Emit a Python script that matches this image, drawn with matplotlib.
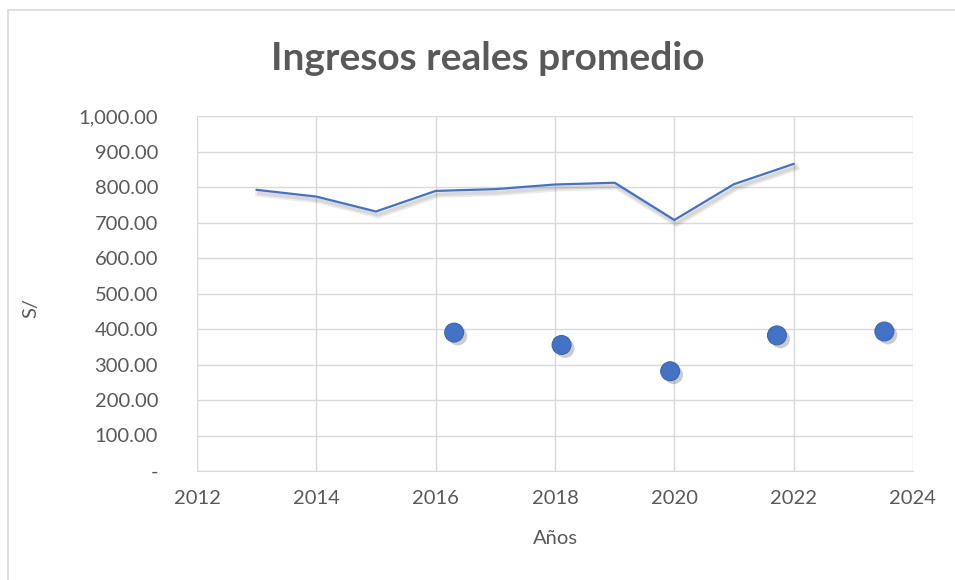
import matplotlib.pyplot as plt
import matplotlib.patheffects as pe
from matplotlib.patches import Rectangle
from matplotlib.ticker import FuncFormatter

plt.rcParams['font.family'] = ['Lato', 'DejaVu Sans']

# serie de linea (ingresos por año)
anios = [2013, 2014, 2015, 2016, 2017, 2018, 2019, 2020, 2021, 2022]
ingresos = [792, 773, 731, 789, 794, 807, 812, 707, 808, 865]

# serie de puntos
x_puntos = [2016.31, 2018.11, 2019.93, 2021.72, 2023.52]
y_puntos = [390, 355, 281, 382, 393]

azul = '#4472C4'
gris = '#595959'

fig = plt.figure(figsize=(9.55, 5.8), dpi=100)
fig.patches.append(Rectangle((8 / 955, -0.1), 1.2, 1 - 10 / 580 + 0.1,
                             transform=fig.transFigure, fill=False,
                             edgecolor='#D9D9D9', linewidth=1.2))

ax = fig.add_axes([197 / 955, 1 - 471 / 580, 716 / 955, 355 / 580])

sombra_linea = [pe.SimpleLineShadow(offset=(1.5, -2.5), shadow_color='k', alpha=0.08, linewidth=5),
                pe.SimpleLineShadow(offset=(1.5, -2.5), shadow_color='k', alpha=0.08, linewidth=2.5),
                pe.Normal()]
ax.plot(anios, ingresos, color=azul, linewidth=1.6, path_effects=sombra_linea, zorder=3)

sombra_punto = [pe.SimplePatchShadow(offset=(2.5, -2.5), shadow_rgbFace='k', alpha=0.2), pe.Normal()]
ax.scatter(x_puntos, y_puntos, s=185, color=azul, edgecolors='#3A66B8', linewidths=0.8,
           path_effects=sombra_punto, zorder=4)

ax.set_xlim(2012, 2024)
ax.set_ylim(0, 1000)
ax.set_xticks(range(2012, 2025, 2))
ax.set_yticks(range(0, 1001, 100))
ax.yaxis.set_major_formatter(FuncFormatter(lambda v, p: '-' if v == 0 else f'{v:,.2f}'))

ax.grid(True, color='#D9D9D9', linewidth=1)
ax.set_axisbelow(True)
for s in ax.spines.values():
    s.set_visible(False)
ax.spines['bottom'].set_visible(True)
ax.spines['bottom'].set_color('#D9D9D9')
ax.tick_params(length=0, labelsize=14.5, labelcolor=gris)
ax.tick_params(axis='y', pad=28)
ax.tick_params(axis='x', pad=14)

ax.set_xlabel('Años', fontsize=14.5, color=gris, labelpad=16)
ax.set_ylabel('S/', fontsize=14.5, color=gris)
ax.yaxis.set_label_coords(-0.22, 0.46)

fig.text(488 / 955, 1 - 58 / 580, 'Ingresos reales promedio', ha='center', va='center',
         fontsize=28, fontweight='bold', color=gris)

fig.savefig('out.png', dpi=100)
